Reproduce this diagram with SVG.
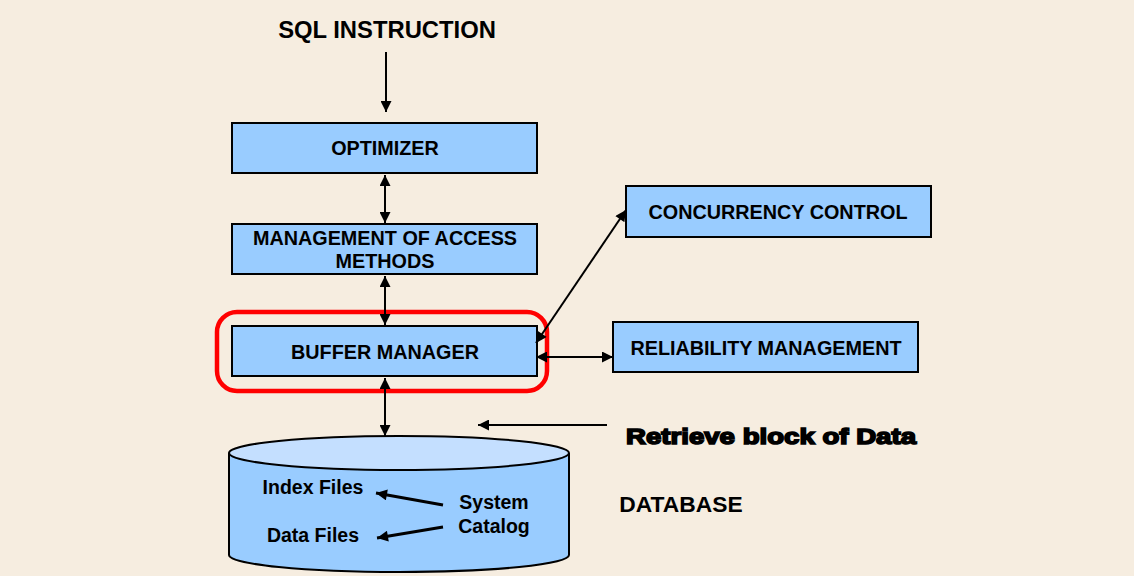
<svg xmlns="http://www.w3.org/2000/svg" width="1134" height="576" viewBox="0 0 1134 576">
<defs>
<style>
.box{fill:#99CCFF;stroke:#000;stroke-width:2}
.t{font-family:"Liberation Sans",Arial,sans-serif;font-weight:bold;fill:#000;text-anchor:middle}
.ln{stroke:#000;stroke-width:2;fill:none}
</style>
<marker id="ah" viewBox="0 0 10 10" refX="10" refY="5" markerWidth="12" markerHeight="11" markerUnits="userSpaceOnUse" orient="auto-start-reverse">
<path d="M0,0 L10,5 L0,10 z" fill="#000"/>
</marker>
</defs>
<rect width="1134" height="576" fill="#F6EDE0"/>
<text class="t" x="387" y="38" font-size="23.8">SQL INSTRUCTION</text>
<g id="optimizer"><rect class="box" x="232" y="123" width="305" height="50"/><text class="t" x="385" y="155" font-size="19.8">OPTIMIZER</text></g>
<g id="access"><rect class="box" x="232" y="224" width="305" height="50"/><text class="t" x="385" y="245" font-size="19.8">MANAGEMENT OF ACCESS</text><text class="t" x="385" y="268" font-size="19.8">METHODS</text></g>
<g id="highlight"><rect x="217" y="312" width="330" height="79" rx="20" fill="none" stroke="#FF0000" stroke-width="4.5"/></g>
<g id="buffer"><rect class="box" x="232" y="326" width="305" height="50"/><text class="t" x="385" y="359" font-size="19.8">BUFFER MANAGER</text></g>
<g id="concurrency"><rect class="box" x="626" y="186" width="305" height="51"/><text class="t" x="778" y="219" font-size="19.8">CONCURRENCY CONTROL</text></g>
<g id="reliability"><rect class="box" x="613" y="322" width="305" height="50"/><text class="t" x="766" y="355" font-size="19.8">RELIABILITY MANAGEMENT</text></g>
<g id="database">
<path d="M229,453 L229,555 A170,17 0 0 0 569,555 L569,453" fill="#99CCFF" stroke="#000" stroke-width="2"/>
<ellipse cx="399" cy="453" rx="170" ry="17" fill="#C4DFFF" stroke="#000" stroke-width="2"/>
<text class="t" x="313" y="494" font-size="19.5">Index Files</text>
<text class="t" x="313" y="542" font-size="19.5">Data Files</text>
<text class="t" x="494" y="509" font-size="19.5">System</text>
<text class="t" x="494" y="533" font-size="19.5">Catalog</text>
</g>
<text class="t" x="681" y="512" font-size="22.8">DATABASE</text>
<text class="t" x="771" y="444" font-size="22" textLength="290" lengthAdjust="spacingAndGlyphs" stroke="#000" stroke-width="1.6">Retrieve block of Data</text>
<g id="connectors">
<line class="ln" x1="386" y1="52" x2="386" y2="112" marker-end="url(#ah)"/>
<line class="ln" x1="385" y1="175" x2="385" y2="223" marker-start="url(#ah)" marker-end="url(#ah)"/>
<line class="ln" x1="385" y1="276" x2="385" y2="325" marker-start="url(#ah)" marker-end="url(#ah)"/>
<line class="ln" x1="385" y1="378" x2="385" y2="436" marker-start="url(#ah)" marker-end="url(#ah)"/>
<line class="ln" x1="536" y1="357" x2="613" y2="357" marker-start="url(#ah)" marker-end="url(#ah)"/>
<line class="ln" x1="536" y1="343" x2="626" y2="210" marker-start="url(#ah)" marker-end="url(#ah)"/>
<line class="ln" x1="607" y1="425" x2="478" y2="425" marker-end="url(#ah)"/>
<line stroke="#000" stroke-width="2.8" x1="443" y1="505" x2="376" y2="493" marker-end="url(#ah)"/>
<line stroke="#000" stroke-width="2.8" x1="443" y1="527" x2="377" y2="538" marker-end="url(#ah)"/>
</g>
</svg>
